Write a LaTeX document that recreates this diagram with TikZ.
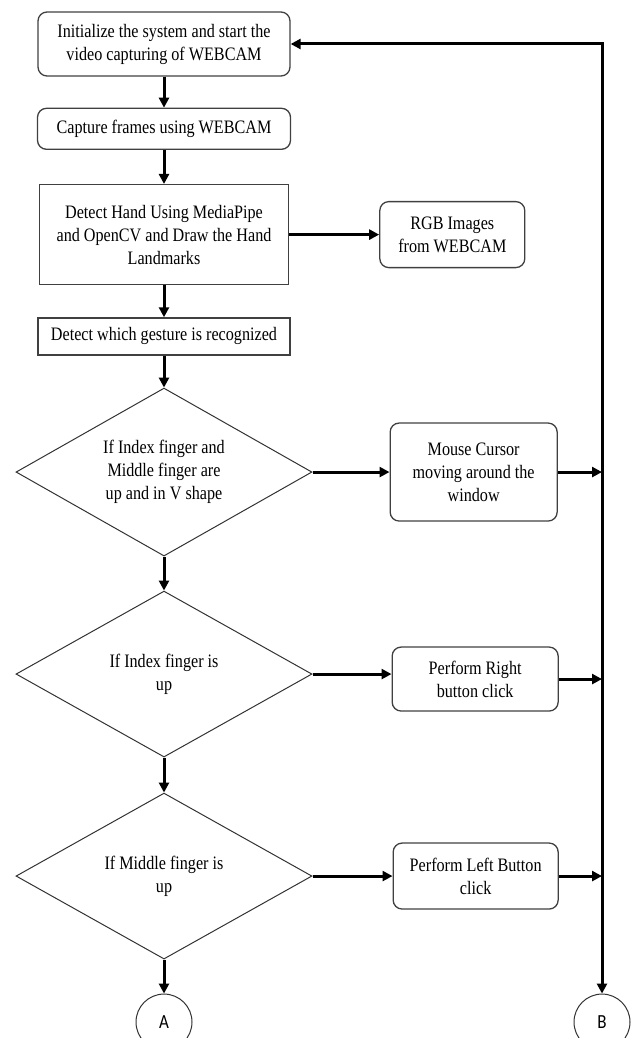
\documentclass[tikz,border=0pt]{standalone}
\usepackage{fontspec}
\setmainfont[FakeStretch=0.85]{Liberation Serif}
\newfontfamily\connfont[FakeStretch=0.85]{Carlito}
\usetikzlibrary{positioning,shapes.geometric,arrows.meta}

\begin{document}
\begin{tikzpicture}[x=1pt, y=1pt, >={Triangle[length=10pt, width=10pt]},
  every node/.style = {align=center, font=\fontsize{19}{23}\selectfont},
  proc/.style = {shape=rectangle, rounded corners=9pt, draw=black!75, line width=1.3pt, inner sep=0pt},
  plain/.style = {shape=rectangle, draw=black!75, line width=1.3pt, inner sep=0pt},
  test/.style = {shape=diamond, aspect=1.76, draw=black!80, line width=1pt, inner sep=0pt, minimum width=296pt},
  conn/.style = {shape=circle, draw=black!80, line width=1pt, inner sep=0pt, minimum size=56pt,
    font=\connfont\fontsize{20}{24}\selectfont},
  flow/.style = {->, line width=3pt}]
  \useasboundingbox (0,0) rectangle (635,-1038);
  \node[proc, minimum width=252pt, minimum height=64pt] (init) at (164,-44)
    {Initialize the system and start the\\video capturing of WEBCAM};
  \node[proc, minimum width=253pt, minimum height=41pt, below=31pt of init] (frames)
    {Capture frames using WEBCAM};
  \node[plain, minimum width=249pt, minimum height=100pt, below=34pt of frames] (hand)
    {Detect Hand Using MediaPipe\\and OpenCV and Draw the Hand\\Landmarks};
  \node[proc, minimum width=145pt, minimum height=66pt, right=90pt of hand] (rgb)
    {RGB Images\\from WEBCAM};
  \node[plain, minimum width=252pt, minimum height=37pt, below=32pt of hand] (gesture)
    {Detect which gesture is recognized};
  \node[test, minimum height=168pt, below=32pt of gesture] (vshape)
    {If Index finger and\\Middle finger are\\up and in V shape};
  \node[proc, minimum width=167pt, minimum height=98pt, right=77pt of vshape] (cursor)
    {Mouse Cursor\\moving around the\\window};
  \node[test, minimum height=166pt, below=34pt of vshape] (index)
    {If Index finger is\\up};
  \node[proc, minimum width=166pt, minimum height=64pt, right=79pt of index, yshift=-5pt] (rclick)
    {Perform Right\\button click};
  \node[test, minimum height=166pt, below=35pt of index] (middle)
    {If Middle finger is\\up};
  \node[proc, minimum width=165pt, minimum height=66pt, right=80pt of middle] (lclick)
    {Perform Left Button\\click};
  \node[conn, below=34pt of middle] (A) {A};
  \node[conn, right=381pt of A] (B) {B};

  \draw[flow] (init) -- (frames);
  \draw[flow] (frames) -- (hand);
  \draw[flow] (hand) -- (rgb);
  \draw[flow] (hand) -- (gesture);
  \draw[flow] (gesture) -- (vshape);
  \draw[flow] (vshape) -- (cursor);
  \draw[flow] (vshape) -- (index);
  \draw[flow] (index.east) -- (index.east -| rclick.west);
  \draw[flow] (index) -- (middle);
  \draw[flow] (middle) -- (lclick);
  \draw[flow] (middle) -- (A);
  \draw[flow, <->] (init.east) -| (B.north);
  \draw[flow] (cursor.east) -- (cursor.east -| B.north);
  \draw[flow] (rclick.east) -- (rclick.east -| B.north);
  \draw[flow] (lclick.east) -- (lclick.east -| B.north);
\end{tikzpicture}
\end{document}
